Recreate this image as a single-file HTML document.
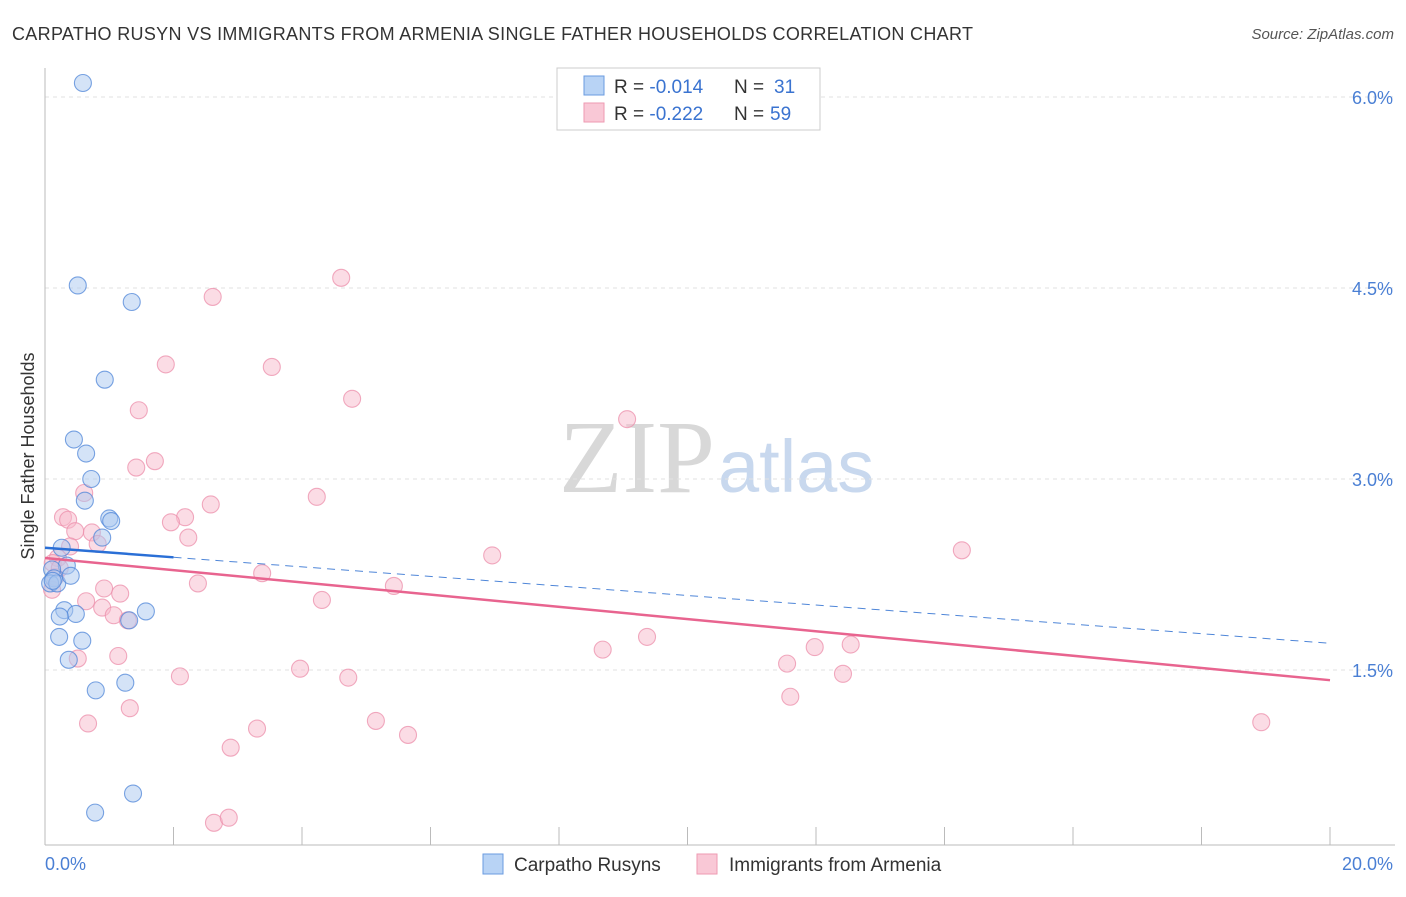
<!DOCTYPE html>
<html><head><meta charset="utf-8"><style>
body{margin:0;background:#fff;font-family:"Liberation Sans",sans-serif}
</style></head><body>
<svg width="1406" height="892" xmlns="http://www.w3.org/2000/svg" font-family="Liberation Sans, sans-serif">
<text x="12" y="40" font-size="18" fill="#333" textLength="961">CARPATHO RUSYN VS IMMIGRANTS FROM ARMENIA SINGLE FATHER HOUSEHOLDS CORRELATION CHART</text>
<text x="1394" y="39" font-size="15" fill="#555" font-style="italic" text-anchor="end">Source: ZipAtlas.com</text>
<text x="715" y="492" font-size="104" fill="#d8d8d8" text-anchor="end" font-family="Liberation Serif, serif">ZIP</text>
<text x="718" y="492" font-size="74" fill="#c8d8ee">atlas</text>
<g id="grid"></g>
<line x1="45" y1="68" x2="45" y2="845" stroke="#bbb"/>
<line x1="45" y1="845" x2="1395" y2="845" stroke="#bbb"/>
<g id="xticks"></g>
<text x="45" y="870" font-size="18" fill="#4a7fd4">0.0%</text>
<text x="1393" y="870" font-size="18" fill="#4a7fd4" text-anchor="end">20.0%</text>
<text x="34" y="456" font-size="18" fill="#333" text-anchor="middle" transform="rotate(-90 34 456)">Single Father Households</text>
<g id="points"></g>
<g id="trends"></g>
<g>
<rect x="557" y="68" width="263" height="62" fill="#fff" stroke="#ccc"/>
<rect x="584" y="76" width="20" height="19" fill="#b8d3f5" stroke="#6a9be0"/>
<rect x="584" y="103" width="20" height="19" fill="#f9c8d6" stroke="#ee9ab2"/>
<text x="614" y="93" font-size="19" fill="#333">R = <tspan fill="#3a73d0">-0.014</tspan></text>
<text x="734" y="93" font-size="19" fill="#333">N = </text>
<text x="774" y="93" font-size="19" fill="#3a73d0">31</text>
<text x="614" y="120" font-size="19" fill="#333">R = <tspan fill="#3a73d0">-0.222</tspan></text>
<text x="734" y="120" font-size="19" fill="#333">N = </text>
<text x="770" y="120" font-size="19" fill="#3a73d0">59</text>
</g>
<g>
<rect x="483" y="854" width="20" height="20" fill="#b8d3f5" stroke="#6a9be0"/>
<text x="514" y="871" font-size="19" fill="#333">Carpatho Rusyns</text>
<rect x="697" y="854" width="20" height="20" fill="#f9c8d6" stroke="#ee9ab2"/>
<text x="729" y="871" font-size="19" fill="#333">Immigrants from Armenia</text>
</g>
</svg>
<script>
const yTicks=[1.5,3.0,4.5,6.0];
const xTickVals=[0,2,4,6,8,10,12,14,16,18,20];
const blueX=[0.59,0.51,1.35,0.93,0.45,0.64,0.72,0.62,1.00,1.03,0.89,0.26,0.34,0.11,0.14,0.08,0.19,0.40,0.30,0.48,0.23,1.57,1.31,0.22,0.58,0.37,0.79,1.25,1.37,0.78,0.12];
const blueY=[6.11,4.52,4.39,3.78,3.31,3.20,3.00,2.83,2.69,2.67,2.54,2.46,2.32,2.29,2.22,2.18,2.18,2.24,1.97,1.94,1.92,1.96,1.89,1.76,1.73,1.58,1.34,1.40,0.53,0.38,2.20];
const pinkX=[4.61,2.61,1.88,3.53,4.78,1.46,9.06,1.71,1.42,0.61,4.23,2.58,0.28,2.18,0.36,1.96,0.73,0.47,2.23,0.82,0.39,6.96,14.27,0.20,0.12,3.38,2.38,5.43,0.92,1.17,0.11,0.64,4.31,0.89,1.07,1.29,9.37,11.98,12.54,8.68,1.14,0.51,11.55,3.97,2.10,4.72,12.42,11.60,1.32,0.67,5.15,3.30,5.65,18.93,2.89,2.63,2.86,0.16,0.23];
const pinkY=[4.58,4.43,3.90,3.88,3.63,3.54,3.47,3.14,3.09,2.89,2.86,2.80,2.70,2.70,2.68,2.66,2.58,2.59,2.54,2.49,2.47,2.40,2.44,2.38,2.34,2.26,2.18,2.16,2.14,2.10,2.13,2.04,2.05,1.99,1.93,1.89,1.76,1.68,1.70,1.66,1.61,1.59,1.55,1.51,1.45,1.44,1.47,1.29,1.20,1.08,1.10,1.04,0.99,1.09,0.89,0.30,0.34,2.23,2.30];
const blueTrend=[2.46,1.71];
const blueSolidEnd=2.0;
const pinkTrend=[2.38,1.42];
const sx=v=>45+v/20*1285;
const sy=v=>861-v/1.5*191;
const NS='http://www.w3.org/2000/svg';
function mk(t,a,p){const e=document.createElementNS(NS,t);for(const k in a)e.setAttribute(k,a[k]);p.appendChild(e);return e;}
const grid=document.getElementById('grid');
yTicks.forEach(v=>{
 const l=mk('line',{x1:45,x2:1395,y1:sy(v),y2:sy(v),stroke:'#e2e2e2','stroke-dasharray':'4 4'},grid);
 
 
 const t=mk('text',{x:1393,y:sy(v)+7,'font-size':18,fill:'#4a7fd4','text-anchor':'end'},grid);
 t.textContent=v.toFixed(1)+'%';
 
 
});
const xt=document.getElementById('xticks');
xTickVals.forEach(v=>{
 const l=mk('line',{x1:sx(v),x2:sx(v),y1:827,y2:845,stroke:'#bbb'},xt);
 
 
});
const pg=document.getElementById('points');
function pts(X,Y,fill,stroke,name){X.forEach((x,i)=>{
 const c=mk('circle',{cx:sx(x),cy:sy(Y[i]),r:8.5,fill:fill,'fill-opacity':0.5,stroke:stroke,'stroke-opacity':0.75,'stroke-width':1.1},pg);
 
 
});}
pts(pinkX,pinkY,'#f7b9cb','#ec8fab','armenia-point');
pts(blueX,blueY,'#a9c8f0','#4f86d8','rusyn-point');
const tg=document.getElementById('trends');
const bAt=x=>blueTrend[0]+(blueTrend[1]-blueTrend[0])*x/20;
let l=mk('line',{x1:sx(0),y1:sy(pinkTrend[0]),x2:sx(20),y2:sy(pinkTrend[1]),stroke:'#e8648f','stroke-width':2.5},tg);


l=mk('line',{x1:sx(0),y1:sy(bAt(0)),x2:sx(blueSolidEnd),y2:sy(bAt(blueSolidEnd)),stroke:'#2a6fd6','stroke-width':2.5},tg);


l=mk('line',{x1:sx(blueSolidEnd),y1:sy(bAt(blueSolidEnd)),x2:sx(20),y2:sy(bAt(20)),stroke:'#4f86d8','stroke-width':1,'stroke-dasharray':'8 6'},tg);


</script>
</body></html>
